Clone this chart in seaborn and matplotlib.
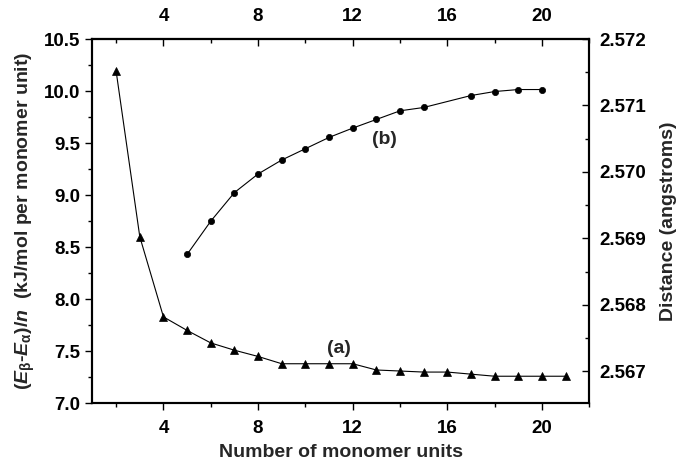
import matplotlib
matplotlib.use("Agg")
import matplotlib.pyplot as plt
from matplotlib.ticker import MultipleLocator, FormatStrFormatter
import seaborn as sns
import pandas as pd

# (a) energy difference per monomer unit vs chain length
n_a = [2, 3, 4, 5, 6, 7, 8, 9, 10, 11, 12, 13, 14, 15, 16, 17, 18, 19, 20, 21]
energy_a = [10.19, 8.60, 7.83, 7.70, 7.58, 7.51, 7.45, 7.38, 7.38, 7.38, 7.38,
            7.32, 7.31, 7.30, 7.30, 7.28, 7.26, 7.26, 7.26, 7.26]

# (b) distance vs chain length
n_b = [5, 6, 7, 8, 9, 10, 11, 12, 13, 14, 15, 17, 18, 19, 20]
dist_b = [2.56876, 2.56926, 2.56969, 2.56997, 2.57018, 2.57035, 2.57052, 2.57066,
          2.57079, 2.57092, 2.57097, 2.57115, 2.57121, 2.57124, 2.57124]

x_ticks = [4, 8, 12, 16, 20]

sns.set_style("ticks")
plt.rcParams["font.family"] = ["Liberation Sans", "DejaVu Sans"]
plt.rcParams["font.weight"] = "bold"
plt.rcParams["axes.labelweight"] = "bold"
plt.rcParams["mathtext.fontset"] = "custom"
plt.rcParams["mathtext.rm"] = "Liberation Sans:bold"
plt.rcParams["mathtext.it"] = "Liberation Sans:italic:bold"
plt.rcParams["mathtext.bf"] = "Liberation Sans:bold"

FS_TICK = 13.5
FS_LAB = 14
fig = plt.figure(figsize=(6.78, 4.65), dpi=100)
ax = fig.add_axes([0.1364, 0.1327, 0.8692 - 0.1364, 0.9161 - 0.1327])

df_a = pd.DataFrame({"n": n_a, "E": energy_a})
df_b = pd.DataFrame({"n": n_b, "d": dist_b})

sns.lineplot(data=df_a, x="n", y="E", ax=ax, color="black", linewidth=0.8,
             marker="^", markersize=5.5, markeredgecolor="black", markeredgewidth=0.5)
ax.set_xlim(1, 22)
ax.set_ylim(7.0, 10.5)
ax.set_xticks(x_ticks)
ax.xaxis.set_minor_locator(MultipleLocator(2))
ax.yaxis.set_major_locator(MultipleLocator(0.5))
ax.yaxis.set_minor_locator(MultipleLocator(0.25))
ax.yaxis.set_major_formatter(FormatStrFormatter("%.1f"))
ax.tick_params(which="both", direction="out", width=1.0, labelsize=FS_TICK, colors="black")
ax.tick_params(which="major", length=5)
ax.tick_params(which="minor", length=3)
ax.tick_params(axis="x", which="major", pad=7)
ax.set_xlabel("Number of monomer units", fontsize=FS_LAB, fontweight="bold", labelpad=5)
ax.set_ylabel(r"$(\mathit{E}_{\mathrm{\beta}}$-$\mathit{E}_{\mathrm{\alpha}})/\mathit{n}$  (kJ/mol per monomer unit)",
              fontsize=FS_LAB, fontweight="bold", labelpad=5)

ax2 = ax.twinx()
sns.lineplot(data=df_b, x="n", y="d", ax=ax2, color="black", linewidth=0.8,
             marker="o", markersize=4.5, markeredgecolor="black", markeredgewidth=0.5)
ax2.set_ylim(2.56652, 2.572)
ax2.yaxis.set_major_locator(MultipleLocator(0.001))
ax2.yaxis.set_minor_locator(MultipleLocator(0.0005))
ax2.yaxis.set_major_formatter(FormatStrFormatter("%.3f"))
ax2.tick_params(which="both", direction="in", width=1.0, labelsize=FS_TICK, colors="black")
ax2.tick_params(which="major", length=5, pad=7)
ax2.tick_params(which="minor", length=3)
ax2.set_ylabel("Distance (angstroms)", fontsize=FS_LAB, fontweight="bold", labelpad=10)
ax2.set_xlabel("")

top = ax.secondary_xaxis("top")
top.set_xticks(x_ticks)
top.xaxis.set_minor_locator(MultipleLocator(2))
top.tick_params(which="both", direction="in", width=1.0, labelsize=FS_TICK, colors="black")
top.tick_params(which="major", length=5, pad=10)
top.tick_params(which="minor", length=3)

for a in (ax, ax2):
    for s in a.spines.values():
        s.set_linewidth(1.5)
        s.set_color("black")
top.spines["top"].set_linewidth(1.5)

for lbl in ax.get_xticklabels() + ax.get_yticklabels() + ax2.get_yticklabels() + top.get_xticklabels():
    lbl.set_fontweight("bold")

ax.text(11.4, 7.53, "(a)", fontsize=FS_LAB, fontweight="bold", ha="center", va="center")
ax.text(13.35, 9.53, "(b)", fontsize=FS_LAB, fontweight="bold", ha="center", va="center")

fig.savefig("out.png", dpi=100)
